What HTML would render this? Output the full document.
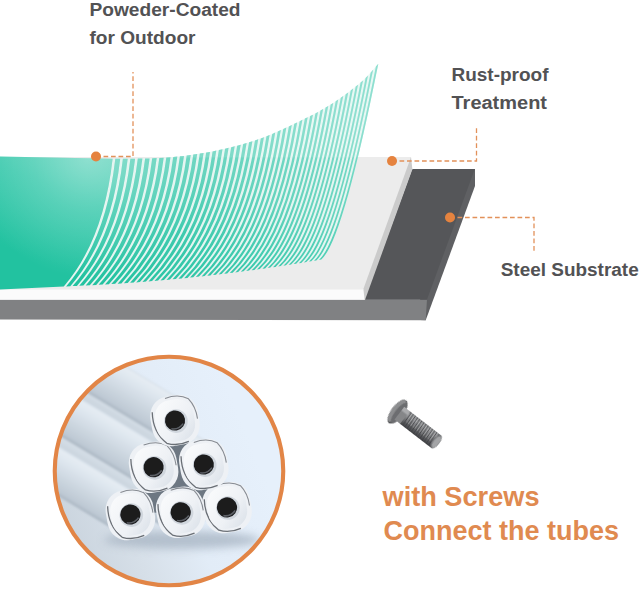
<!DOCTYPE html>
<html><head><meta charset="utf-8"><title>Powder-Coated Steel</title>
<style>
html,body{margin:0;padding:0;background:#fff;}
body{width:640px;height:589px;overflow:hidden;position:relative;font-family:"Liberation Sans","Noto Sans CJK SC",sans-serif;}
svg{position:absolute;left:0;top:0;display:block}
.lbl{font-family:"Liberation Sans","Noto Sans CJK SC",sans-serif;font-weight:700;fill:#525254}
.org{font-family:"Liberation Sans","Noto Sans CJK SC",sans-serif;font-weight:700;fill:#e08a50}
</style></head><body>
<svg width="640" height="589" viewBox="0 0 640 589">
<defs>
<linearGradient id="gbase" gradientUnits="userSpaceOnUse" x1="120" y1="292" x2="210" y2="60">
<stop offset="0" stop-color="#22c2a0"/><stop offset="0.3" stop-color="#3ecaae"/><stop offset="0.58" stop-color="#66d4be"/><stop offset="1" stop-color="#7edbc9"/></linearGradient>
<radialGradient id="ghi" gradientUnits="userSpaceOnUse" cx="88" cy="158" r="120">
<stop offset="0" stop-color="#ffffff" stop-opacity="0.34"/><stop offset="0.45" stop-color="#ffffff" stop-opacity="0.16"/><stop offset="1" stop-color="#ffffff" stop-opacity="0"/></radialGradient>
<clipPath id="gclip"><path d="M0,156.5 L112.6,158.7 Q103.6,240.3 63.8,286.4 L0,289.5 Z M66.1,286.4 Q106.3,240.0 115.3,158.7 L120.2,158.7 Q111.2,239.2 70.3,286.2 Z M72.6,286.1 Q113.9,238.9 122.9,158.7 L127.7,158.7 Q118.7,238.2 76.9,285.9 Z M79.2,285.8 Q121.3,237.9 130.4,158.7 L135.1,158.7 Q126.0,237.3 83.4,285.6 Z M85.7,285.5 Q128.6,237.0 137.8,158.6 L142.4,158.6 Q133.2,236.5 89.8,285.3 Z M92.2,285.2 Q135.8,236.2 145.1,158.5 L149.6,158.4 Q140.3,235.7 96.2,285.0 Z M98.6,284.8 Q142.9,235.4 152.2,158.3 L156.7,158.1 Q147.3,235.0 102.6,284.6 Z M105.0,284.5 Q149.9,234.7 159.3,158.0 L163.7,157.7 Q154.2,234.4 108.9,284.2 Z M111.3,284.1 Q156.7,234.1 166.3,157.5 L170.5,157.2 Q160.9,233.8 115.2,283.8 Z M117.6,283.7 Q163.4,233.6 173.2,157.0 L177.3,156.6 Q167.5,233.3 121.4,283.4 Z M123.9,283.3 Q170.1,233.1 179.9,156.3 L184.0,155.9 Q174.0,232.9 127.7,283.0 Z M130.1,282.8 Q176.6,232.7 186.7,155.5 L190.7,155.0 Q180.4,232.5 133.8,282.6 Z M136.2,282.4 Q182.9,232.4 193.3,154.6 L197.2,154.0 Q186.7,232.2 139.9,282.1 Z M142.4,281.9 Q189.2,232.1 199.8,153.6 L203.6,153.0 Q192.9,231.9 146.0,281.6 Z M148.5,281.4 Q195.4,231.8 206.2,152.6 L210.0,151.9 Q199.0,231.7 152.1,281.1 Z M154.5,280.9 Q201.5,231.6 212.6,151.4 L216.3,150.6 Q205.0,231.5 158.1,280.6 Z M160.5,280.4 Q207.4,231.5 218.9,150.0 L222.5,149.2 Q210.8,231.4 164.0,280.1 Z M166.5,279.9 Q213.3,231.4 225.1,148.7 L228.6,147.8 Q216.6,231.3 170.0,279.6 Z M172.5,279.3 Q219.0,231.3 231.2,147.2 L234.7,146.3 Q222.3,231.3 175.9,279.0 Z M178.4,278.8 Q224.7,231.3 237.2,145.7 L240.7,144.7 Q227.9,231.3 181.7,278.4 Z M184.2,278.2 Q230.2,231.3 243.2,144.0 L246.6,143.0 Q233.3,231.4 187.5,277.9 Z M190.0,277.6 Q235.7,231.4 249.1,142.3 L252.4,141.2 Q238.7,231.4 193.3,277.3 Z M195.8,277.0 Q241.1,231.5 255.0,140.4 L258.2,139.3 Q244.0,231.6 199.0,276.6 Z M201.6,276.4 Q246.3,231.6 260.8,138.4 L263.9,137.3 Q249.2,231.7 204.7,276.0 Z M207.3,275.7 Q251.5,231.8 266.5,136.3 L269.6,135.0 Q254.3,231.9 210.4,275.4 Z M213.0,275.1 Q256.6,232.0 272.2,134.0 L275.2,132.6 Q259.3,232.1 216.0,274.7 Z M218.6,274.4 Q261.6,232.2 277.8,131.5 L280.8,130.1 Q264.2,232.3 221.6,274.1 Z M224.2,273.8 Q266.5,232.5 283.3,129.0 L286.3,127.6 Q269.1,232.6 227.2,273.4 Z M229.8,273.1 Q271.3,232.7 288.9,126.4 L291.8,125.0 Q273.8,232.9 232.7,272.7 Z M235.3,272.4 Q276.0,233.0 294.3,123.8 L297.1,122.4 Q278.5,233.2 238.2,272.0 Z M240.8,271.7 Q280.7,233.4 299.7,121.2 L302.4,119.8 Q283.1,233.6 243.6,271.3 Z M246.2,271.0 Q285.3,233.7 304.9,118.6 L307.7,117.3 Q287.6,233.9 249.1,270.6 Z M251.6,270.3 Q289.8,234.1 310.2,116.0 L312.9,114.7 Q292.0,234.3 254.4,269.9 Z M257.0,269.5 Q294.2,234.5 315.4,113.4 L318.0,111.9 Q296.4,234.7 259.8,269.1 Z M262.4,268.8 Q298.5,234.9 320.5,110.6 L323.1,109.1 Q300.7,235.1 265.1,268.4 Z M267.7,268.0 Q302.7,235.3 325.6,107.6 L328.2,106.1 Q304.9,235.5 270.4,267.6 Z M273.0,267.2 Q306.9,235.8 330.7,104.5 L333.2,102.9 Q309.0,236.0 275.6,266.9 Z M278.2,266.5 Q311.0,236.2 335.7,101.2 L338.2,99.5 Q313.0,236.4 280.8,266.1 Z M283.4,265.7 Q315.1,236.7 340.8,97.8 L343.2,96.0 Q317.0,236.9 286.0,265.3 Z M288.6,264.9 Q319.0,237.2 345.7,94.2 L348.2,92.4 Q320.9,237.4 291.1,264.5 Z M293.7,264.1 Q322.9,237.6 350.7,90.5 L353.1,88.6 Q324.7,237.9 296.2,263.7 Z M298.9,263.3 Q326.7,238.1 355.7,86.6 L358.0,84.7 Q328.5,238.4 301.3,262.9 Z M303.9,262.4 Q330.5,238.7 360.6,82.5 L363.0,80.4 Q332.2,238.9 306.3,262.1 Z M309.0,261.6 Q334.1,239.2 365.6,77.9 L368.0,75.5 Q335.8,239.4 311.3,261.2 Z M314.0,260.8 Q337.7,239.7 370.7,72.5 L373.1,69.8 Q339.4,239.9 316.3,260.4 Z M319.0,259.9 Q341.3,240.2 375.9,66.5 L378.3,63.7 Q342.9,240.5 321.3,259.5 Z"/></clipPath>
<linearGradient id="tubeg" x1="0" y1="0" x2="0" y2="1">
<stop offset="0" stop-color="#a9b5c1"/><stop offset="0.1" stop-color="#bec9d4"/><stop offset="0.45" stop-color="#cfd9e2"/><stop offset="0.8" stop-color="#e0e8f0"/><stop offset="0.95" stop-color="#e5ecf3"/><stop offset="1" stop-color="#d4dee8"/></linearGradient>
<linearGradient id="capg" x1="0" y1="0" x2="1" y2="1">
<stop offset="0" stop-color="#fbfcfd"/><stop offset="0.6" stop-color="#eef1f5"/><stop offset="1" stop-color="#d8dfe7"/></linearGradient>
<linearGradient id="bgc" gradientUnits="userSpaceOnUse" x1="55" y1="520" x2="250" y2="440">
<stop offset="0" stop-color="#c9d3dd"/><stop offset="0.3" stop-color="#d6dfe8"/><stop offset="0.6" stop-color="#e2ecf7"/><stop offset="1" stop-color="#e6f0fb"/></linearGradient>
<linearGradient id="scg" x1="0" y1="0" x2="0" y2="1"><stop offset="0" stop-color="#8f9092"/><stop offset="0.2" stop-color="#a9aaac"/><stop offset="0.5" stop-color="#7b7c7e"/><stop offset="0.85" stop-color="#525356"/><stop offset="1" stop-color="#424346"/></linearGradient>
<clipPath id="cc"><circle cx="169" cy="471" r="113.5"/></clipPath>
<filter id="b1" x="-10%" y="-10%" width="120%" height="120%"><feGaussianBlur stdDeviation="0.7"/></filter>
<filter id="b3" x="-20%" y="-80%" width="140%" height="260%"><feGaussianBlur stdDeviation="4"/></filter>
<filter id="b2" x="-10%" y="-10%" width="120%" height="120%"><feGaussianBlur stdDeviation="1.2"/></filter>
</defs>
<rect width="640" height="589" fill="#ffffff"/>

<!-- steel substrate -->
<polygon points="470,169 475,169 475,186 425.7,320.3 420,320 420,300" fill="#5f6063"/>
<polygon points="0,299.5 427,299.5 425.7,320.3 0,319.5" fill="#808183"/>
<polygon points="412.2,169 474.8,169 426.9,299.8 364,299.8" fill="#555659"/>
<!-- rust-proof layer -->
<polygon points="405,157 411,157 412.4,169.3 365,300 360,300 360,289" fill="#cbcbcb"/>
<polygon points="0,289 363.4,289 364.6,299.8 0,299.8" fill="#fbfbfb"/>
<polygon points="0,157 411,157 363.2,289.5 0,289.5" fill="#ececec"/>
<!-- powder coat -->
<path d="M63.8,286.4 Q103.6,240.3 112.6,158.7 L112.6,158.7 L114.5,158.7 L116.4,158.7 L118.3,158.7 L120.2,158.7 L122.1,158.7 L124.0,158.7 L125.9,158.7 L127.7,158.7 L129.6,158.7 L131.4,158.7 L133.3,158.7 L135.1,158.7 L137.0,158.7 L138.8,158.6 L140.6,158.6 L142.4,158.6 L144.2,158.5 L146.0,158.5 L147.8,158.5 L149.6,158.4 L151.4,158.4 L153.1,158.3 L154.9,158.2 L156.7,158.1 L158.4,158.1 L160.2,157.9 L161.9,157.8 L163.7,157.7 L165.4,157.6 L167.1,157.5 L168.8,157.3 L170.5,157.2 L172.3,157.0 L174.0,156.9 L175.6,156.7 L177.3,156.6 L179.0,156.4 L180.7,156.2 L182.4,156.1 L184.0,155.9 L185.7,155.7 L187.4,155.4 L189.0,155.2 L190.7,155.0 L192.3,154.8 L193.9,154.5 L195.6,154.3 L197.2,154.0 L198.8,153.8 L200.4,153.5 L202.0,153.3 L203.6,153.0 L205.2,152.7 L206.8,152.4 L208.4,152.2 L210.0,151.9 L211.6,151.6 L213.2,151.2 L214.7,150.9 L216.3,150.6 L217.9,150.3 L219.4,149.9 L221.0,149.6 L222.5,149.2 L224.1,148.9 L225.6,148.5 L227.1,148.2 L228.6,147.8 L230.2,147.5 L231.7,147.1 L233.2,146.7 L234.7,146.3 L236.2,145.9 L237.7,145.6 L239.2,145.2 L240.7,144.7 L242.2,144.3 L243.6,143.9 L245.1,143.5 L246.6,143.0 L248.1,142.6 L249.5,142.2 L251.0,141.7 L252.4,141.2 L253.9,140.8 L255.3,140.3 L256.8,139.8 L258.2,139.3 L259.6,138.8 L261.1,138.3 L262.5,137.8 L263.9,137.3 L265.4,136.7 L266.8,136.2 L268.2,135.6 L269.6,135.0 L271.0,134.4 L272.4,133.9 L273.8,133.2 L275.2,132.6 L276.6,132.0 L278.0,131.4 L279.4,130.8 L280.8,130.1 L282.2,129.5 L283.6,128.9 L284.9,128.2 L286.3,127.6 L287.7,126.9 L289.0,126.3 L290.4,125.6 L291.8,125.0 L293.1,124.3 L294.5,123.7 L295.8,123.0 L297.1,122.4 L298.5,121.7 L299.8,121.1 L301.1,120.5 L302.4,119.8 L303.8,119.2 L305.1,118.5 L306.4,117.9 L307.7,117.3 L309.0,116.6 L310.3,116.0 L311.6,115.3 L312.9,114.7 L314.1,114.0 L315.4,113.3 L316.7,112.6 L318.0,111.9 L319.3,111.3 L320.5,110.6 L321.8,109.8 L323.1,109.1 L324.4,108.4 L325.6,107.6 L326.9,106.9 L328.2,106.1 L329.4,105.3 L330.7,104.5 L331.9,103.7 L333.2,102.9 L334.5,102.1 L335.7,101.2 L337.0,100.4 L338.2,99.5 L339.5,98.7 L340.7,97.8 L342.0,96.9 L343.2,96.0 L344.5,95.1 L345.7,94.2 L346.9,93.3 L348.2,92.4 L349.4,91.4 L350.6,90.5 L351.9,89.6 L353.1,88.6 L354.3,87.7 L355.6,86.7 L356.8,85.7 L358.0,84.7 L359.2,83.7 L360.5,82.6 L361.7,81.5 L363.0,80.4 L364.2,79.3 L365.4,78.1 L366.7,76.8 L368.0,75.5 L369.2,74.1 L370.5,72.7 L371.8,71.3 L373.1,69.8 L374.4,68.3 L375.7,66.7 L377.0,65.2 L378.3,63.7 L378.3,63.7 Q342.9,240.5 321.3,259.5 Z" fill="#e4f7f2" opacity="0.85"/>
<g clip-path="url(#gclip)"><rect x="0" y="50" width="400" height="250" fill="url(#gbase)"/><rect x="0" y="50" width="400" height="250" fill="url(#ghi)"/><rect x="113" y="50" width="300" height="107.5" fill="#ffffff" opacity="0.13"/></g>

<!-- callouts -->
<g fill="none" stroke="#e2915a" stroke-width="1.3" stroke-dasharray="4.7 2.8">
<path d="M96,156.5 H133 V72"/>
<path d="M392,161 H476.5 V126"/>
<path d="M450,217.5 H534 V252"/>
</g>
<g fill="#e5833f">
<circle cx="96" cy="156.5" r="5"/><circle cx="392" cy="161" r="5"/><circle cx="450" cy="217.5" r="5"/>
</g>
<text class="lbl" x="89.5" y="15.5" font-size="18" textLength="151" lengthAdjust="spacingAndGlyphs">Poweder-Coated</text>
<text class="lbl" x="89.5" y="43.5" font-size="18" textLength="106" lengthAdjust="spacingAndGlyphs">for Outdoor</text>
<text class="lbl" x="451.5" y="81" font-size="18" textLength="97" lengthAdjust="spacingAndGlyphs">Rust-proof</text>
<text class="lbl" x="451.5" y="109" font-size="18" textLength="95.5" lengthAdjust="spacingAndGlyphs">Treatment</text>
<text class="lbl" x="500.7" y="276" font-size="18" textLength="138" lengthAdjust="spacingAndGlyphs">Steel Substrate</text>

<!-- tubes photo -->
<circle cx="169" cy="471" r="113.5" fill="url(#bgc)"/>
<g clip-path="url(#cc)">
<ellipse cx="182" cy="540" rx="78" ry="9" fill="#a9b6c4" opacity="0.8" filter="url(#b3)"/>
<g filter="url(#b2)">
<g transform="translate(227.0,507.4) rotate(-149.00)"><rect x="0" y="-21.5" width="260" height="43" fill="url(#tubeg)"/></g>
<g transform="translate(180.7,512.3) rotate(-149.00)"><rect x="0" y="-21.5" width="260" height="43" fill="url(#tubeg)"/></g>
<g transform="translate(203.8,464.5) rotate(-149.00)"><rect x="0" y="-21.5" width="260" height="43" fill="url(#tubeg)"/></g>
<g transform="translate(130.4,514.5) rotate(-149.00)"><rect x="0" y="-21.5" width="260" height="43" fill="url(#tubeg)"/></g>
<g transform="translate(153.6,467.2) rotate(-149.00)"><rect x="0" y="-21.5" width="260" height="43" fill="url(#tubeg)"/></g>
<g transform="translate(175.0,420.5) rotate(-149.00)"><rect x="0" y="-21.5" width="260" height="43" fill="url(#tubeg)"/></g>
</g>
<polygon points="175,420.5 130.4,514.5 227,507.4" fill="#6d7782" filter="url(#b1)"/>
<g filter="url(#b1)">
<g transform="translate(227.0,507.4) rotate(-10)"><rect x="-24" y="-25" width="48" height="50" rx="19" ry="20" fill="#eef1f5"/><path d="M-21,-12 Q-24,8 -12,21 Q-2,26 10,23" fill="none" stroke="#4a4f56" stroke-width="1.3" opacity="0.8"/><path d="M-6,-23.5 Q8,-26 17,-19 Q23,-10 22.5,2" fill="none" stroke="#5a6068" stroke-width="1.1" opacity="0.7"/><rect x="-19.5" y="-21" width="39" height="42" rx="16" ry="17" fill="url(#capg)"/><circle cx="0.8" cy="0.8" r="11.8" fill="#d0d6dd"/><circle cx="0" cy="0" r="10.1" fill="#1b1c1f"/><path d="M-5,7.5 Q2,10 7.5,4.5" fill="none" stroke="#6d7177" stroke-width="1.6" opacity="0.8"/></g>
<g transform="translate(180.7,512.3) rotate(-10)"><rect x="-24" y="-25" width="48" height="50" rx="19" ry="20" fill="#eef1f5"/><path d="M-21,-12 Q-24,8 -12,21 Q-2,26 10,23" fill="none" stroke="#4a4f56" stroke-width="1.3" opacity="0.8"/><path d="M-6,-23.5 Q8,-26 17,-19 Q23,-10 22.5,2" fill="none" stroke="#5a6068" stroke-width="1.1" opacity="0.7"/><rect x="-19.5" y="-21" width="39" height="42" rx="16" ry="17" fill="url(#capg)"/><circle cx="0.8" cy="0.8" r="11.8" fill="#d0d6dd"/><circle cx="0" cy="0" r="10.1" fill="#1b1c1f"/><path d="M-5,7.5 Q2,10 7.5,4.5" fill="none" stroke="#6d7177" stroke-width="1.6" opacity="0.8"/></g>
<g transform="translate(203.8,464.5) rotate(-10)"><rect x="-24" y="-25" width="48" height="50" rx="19" ry="20" fill="#eef1f5"/><path d="M-21,-12 Q-24,8 -12,21 Q-2,26 10,23" fill="none" stroke="#4a4f56" stroke-width="1.3" opacity="0.8"/><path d="M-6,-23.5 Q8,-26 17,-19 Q23,-10 22.5,2" fill="none" stroke="#5a6068" stroke-width="1.1" opacity="0.7"/><rect x="-19.5" y="-21" width="39" height="42" rx="16" ry="17" fill="url(#capg)"/><circle cx="0.8" cy="0.8" r="11.8" fill="#d0d6dd"/><circle cx="0" cy="0" r="10.1" fill="#1b1c1f"/><path d="M-5,7.5 Q2,10 7.5,4.5" fill="none" stroke="#6d7177" stroke-width="1.6" opacity="0.8"/></g>
<g transform="translate(130.4,514.5) rotate(-10)"><rect x="-24" y="-25" width="48" height="50" rx="19" ry="20" fill="#eef1f5"/><path d="M-21,-12 Q-24,8 -12,21 Q-2,26 10,23" fill="none" stroke="#4a4f56" stroke-width="1.3" opacity="0.8"/><path d="M-6,-23.5 Q8,-26 17,-19 Q23,-10 22.5,2" fill="none" stroke="#5a6068" stroke-width="1.1" opacity="0.7"/><rect x="-19.5" y="-21" width="39" height="42" rx="16" ry="17" fill="url(#capg)"/><circle cx="0.8" cy="0.8" r="11.8" fill="#d0d6dd"/><circle cx="0" cy="0" r="10.1" fill="#1b1c1f"/><path d="M-5,7.5 Q2,10 7.5,4.5" fill="none" stroke="#6d7177" stroke-width="1.6" opacity="0.8"/></g>
<g transform="translate(153.6,467.2) rotate(-10)"><rect x="-24" y="-25" width="48" height="50" rx="19" ry="20" fill="#eef1f5"/><path d="M-21,-12 Q-24,8 -12,21 Q-2,26 10,23" fill="none" stroke="#4a4f56" stroke-width="1.3" opacity="0.8"/><path d="M-6,-23.5 Q8,-26 17,-19 Q23,-10 22.5,2" fill="none" stroke="#5a6068" stroke-width="1.1" opacity="0.7"/><rect x="-19.5" y="-21" width="39" height="42" rx="16" ry="17" fill="url(#capg)"/><circle cx="0.8" cy="0.8" r="11.8" fill="#d0d6dd"/><circle cx="0" cy="0" r="10.1" fill="#1b1c1f"/><path d="M-5,7.5 Q2,10 7.5,4.5" fill="none" stroke="#6d7177" stroke-width="1.6" opacity="0.8"/></g>
<g transform="translate(175.0,420.5) rotate(-10)"><rect x="-24" y="-25" width="48" height="50" rx="19" ry="20" fill="#eef1f5"/><path d="M-21,-12 Q-24,8 -12,21 Q-2,26 10,23" fill="none" stroke="#4a4f56" stroke-width="1.3" opacity="0.8"/><path d="M-6,-23.5 Q8,-26 17,-19 Q23,-10 22.5,2" fill="none" stroke="#5a6068" stroke-width="1.1" opacity="0.7"/><rect x="-19.5" y="-21" width="39" height="42" rx="16" ry="17" fill="url(#capg)"/><circle cx="0.8" cy="0.8" r="11.8" fill="#d0d6dd"/><circle cx="0" cy="0" r="10.1" fill="#1b1c1f"/><path d="M-5,7.5 Q2,10 7.5,4.5" fill="none" stroke="#6d7177" stroke-width="1.6" opacity="0.8"/></g>
</g>
</g>
<circle cx="169" cy="471" r="114.25" fill="none" stroke="#e28546" stroke-width="4.1"/>

<!-- screw -->
<g transform="translate(397.8,412) rotate(37.7)" filter="url(#b1)">
<rect x="3" y="-8" width="45.5" height="16" fill="url(#scg)"/>
<g stroke="#c2c3c5" stroke-width="0.9" opacity="0.55"><line x1="12.3" y1="-8" x2="13.1" y2="3"/><line x1="15.0" y1="-8" x2="15.8" y2="3"/><line x1="17.7" y1="-8" x2="18.5" y2="3"/><line x1="20.4" y1="-8" x2="21.2" y2="3"/><line x1="23.1" y1="-8" x2="23.9" y2="3"/><line x1="25.8" y1="-8" x2="26.6" y2="3"/><line x1="28.5" y1="-8" x2="29.3" y2="3"/><line x1="31.2" y1="-8" x2="32.0" y2="3"/><line x1="33.9" y1="-8" x2="34.7" y2="3"/><line x1="36.6" y1="-8" x2="37.4" y2="3"/><line x1="39.3" y1="-8" x2="40.1" y2="3"/><line x1="42.0" y1="-8" x2="42.8" y2="3"/><line x1="44.7" y1="-8" x2="45.5" y2="3"/></g>
<g stroke="#3c3d40" stroke-width="1.1" opacity="0.8"><line x1="11.0" y1="-8" x2="12.2" y2="8"/><line x1="13.7" y1="-8" x2="14.9" y2="8"/><line x1="16.4" y1="-8" x2="17.6" y2="8"/><line x1="19.1" y1="-8" x2="20.3" y2="8"/><line x1="21.8" y1="-8" x2="23.0" y2="8"/><line x1="24.5" y1="-8" x2="25.7" y2="8"/><line x1="27.2" y1="-8" x2="28.4" y2="8"/><line x1="29.9" y1="-8" x2="31.1" y2="8"/><line x1="32.6" y1="-8" x2="33.8" y2="8"/><line x1="35.3" y1="-8" x2="36.5" y2="8"/><line x1="38.0" y1="-8" x2="39.2" y2="8"/><line x1="40.7" y1="-8" x2="41.9" y2="8"/><line x1="43.4" y1="-8" x2="44.6" y2="8"/><line x1="46.1" y1="-8" x2="47.3" y2="8"/></g>
<ellipse cx="48.5" cy="0" rx="3.6" ry="8" fill="#77787b"/>
<ellipse cx="49" cy="0" rx="2.8" ry="6.6" fill="#a3a4a6"/>
<ellipse cx="-0.5" cy="0" rx="6" ry="14.2" fill="#4e4f52"/>
<ellipse cx="-1.5" cy="-0.5" rx="5" ry="13.4" fill="#8d8e90"/>
<ellipse cx="1.8" cy="0" rx="4.3" ry="12.6" fill="#6c6d70"/>
<rect x="2" y="-8" width="7" height="16" fill="#858688"/>
<rect x="2" y="-8" width="7" height="4.5" fill="#aaabad"/>
</g>

<text class="org" x="382.5" y="505.5" font-size="27" textLength="157" lengthAdjust="spacingAndGlyphs">with Screws</text>
<text class="org" x="383.5" y="539.5" font-size="27" textLength="235.5" lengthAdjust="spacingAndGlyphs">Connect the tubes</text>
</svg>
</body></html>
